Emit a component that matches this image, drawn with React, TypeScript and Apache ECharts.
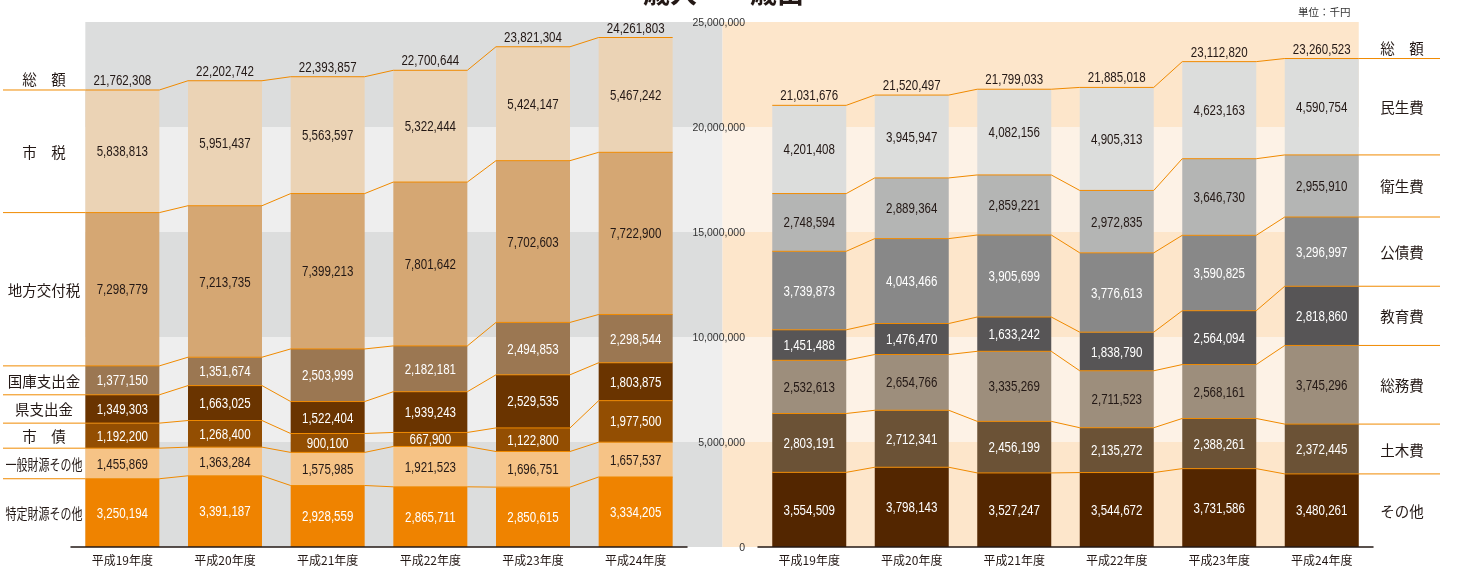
import React, { useEffect, useRef } from 'react';
import * as echarts from 'echarts';

// ---------- data ----------
const categories = ['平成19年度', '平成20年度', '平成21年度', '平成22年度', '平成23年度', '平成24年度'];
const axisTicks = [0, 5000000, 10000000, 15000000, 20000000, 25000000];

// 歳入 (revenue)
const revTotal = [21762308, 22202742, 22393857, 22700644, 23821304, 24261803];
const revCityTax = [5838813, 5951437, 5563597, 5322444, 5424147, 5467242];
const revLocalGrant = [7298779, 7213735, 7399213, 7801642, 7702603, 7722900];
const revNational = [1377150, 1351674, 2503999, 2182181, 2494853, 2298544];
const revPrefecture = [1349303, 1663025, 1522404, 1939243, 2529535, 1803875];
const revBonds = [1192200, 1268400, 900100, 667900, 1122800, 1977500];
const revGeneralOther = [1455869, 1363284, 1575985, 1921523, 1696751, 1657537];
const revSpecificOther = [3250194, 3391187, 2928559, 2865711, 2850615, 3334205];

// 歳出 (expenditure)
const expTotal = [21031676, 21520497, 21799033, 21885018, 23112820, 23260523];
const expWelfare = [4201408, 3945947, 4082156, 4905313, 4623163, 4590754];
const expHealth = [2748594, 2889364, 2859221, 2972835, 3646730, 2955910];
const expDebt = [3739873, 4043466, 3905699, 3776613, 3590825, 3296997];
const expEducation = [1451488, 1476470, 1633242, 1838790, 2564094, 2818860];
const expGeneral = [2532613, 2654766, 3335269, 2711523, 2568161, 3745296];
const expCivil = [2803191, 2712341, 2456199, 2135272, 2388261, 2372445];
const expOther = [3554509, 3798143, 3527247, 3544672, 3731586, 3480261];

// ---------- styles ----------
const ORANGE = '#f08a00';
const DARK = '#231815';
const NUM_FONT = "'Liberation Sans', Arial, sans-serif";
const NUM_SIZE = 15;
const NUM_SQUEEZE = 0.77;
const JP_FONT = "'Noto Sans CJK JP', 'Noto Sans CJK SC', sans-serif";
const BAR_W = 74;
const MID_X = 722.5;

type Seg = { name: string; label: string; data: number[]; color: string; text: string; squeeze?: number };

// bottom to top
const revenue: Seg[] = [
  { name: '特定財源その他', label: '特定財源その他', data: revSpecificOther, color: '#ef8300', text: '#ffffff', squeeze: 0.76 },
  { name: '一般財源その他', label: '一般財源その他', data: revGeneralOther, color: '#f6c386', text: DARK, squeeze: 0.76 },
  { name: '市債', label: '市　債', data: revBonds, color: '#934e02', text: '#ffffff' },
  { name: '県支出金', label: '県支出金', data: revPrefecture, color: '#6a3400', text: '#ffffff' },
  { name: '国庫支出金', label: '国庫支出金', data: revNational, color: '#9b7752', text: '#ffffff' },
  { name: '地方交付税', label: '地方交付税', data: revLocalGrant, color: '#d5a773', text: DARK },
  { name: '市税', label: '市　税', data: revCityTax, color: '#ebd3b5', text: DARK },
];

const expenditure: Seg[] = [
  { name: 'その他', label: 'その他', data: expOther, color: '#532600', text: '#ffffff' },
  { name: '土木費', label: '土木費', data: expCivil, color: '#6b5236', text: '#ffffff' },
  { name: '総務費', label: '総務費', data: expGeneral, color: '#9d8e7c', text: DARK },
  { name: '教育費', label: '教育費', data: expEducation, color: '#575556', text: '#ffffff' },
  { name: '公債費', label: '公債費', data: expDebt, color: '#888888', text: '#ffffff' },
  { name: '衛生費', label: '衛生費', data: expHealth, color: '#b4b5b4', text: DARK },
  { name: '民生費', label: '民生費', data: expWelfare, color: '#dcdddc', text: DARK },
];

const fmt = (v: number) => Number(v).toLocaleString('en-US');

function cumulative(segs: Seg[]): number[][] {
  const out: number[][] = [];
  let acc = categories.map(() => 0);
  segs.forEach((s) => {
    acc = acc.map((a, i) => a + s.data[i]);
    out.push(acc.slice());
  });
  return out;
}

export default function App() {
  const ref = useRef<HTMLDivElement>(null);

  useEffect(() => {
    if (!ref.current) return;
    const chart = echarts.init(ref.current, null, { renderer: 'svg' });

    const revCum = cumulative(revenue);
    const expCum = cumulative(expenditure);

    const barSeries = (segs: Seg[], axis: number, stack: string) =>
      segs.map((s) => ({
        type: 'bar',
        name: s.name,
        stack,
        xAxisIndex: axis,
        yAxisIndex: axis,
        barWidth: BAR_W,
        data: s.data,
        z: 2,
        silent: true,
        itemStyle: { color: s.color },
        label: { show: false },
      }));

    const bgSeries = (axis: number, side: 'left' | 'right', dark: string, light: string) => ({
      type: 'custom',
      xAxisIndex: axis,
      yAxisIndex: axis,
      clip: false,
      silent: true,
      z: 0,
      data: [[0, 0]],
      renderItem: (_params: any, api: any) => {
        const n = categories.length;
        let x0: number, x1: number;
        if (side === 'left') {
          x0 = api.coord([0, 0])[0] - BAR_W / 2;
          x1 = MID_X;
        } else {
          x0 = MID_X;
          x1 = api.coord([n - 1, 0])[0] + BAR_W / 2;
        }
        const children = axisTicks.slice(0, -1).map((v, k) => {
          const yb = api.coord([0, v])[1];
          const yt = api.coord([0, axisTicks[k + 1]])[1];
          return {
            type: 'rect',
            shape: { x: x0, y: yt, width: x1 - x0, height: yb - yt },
            style: { fill: k % 2 === 0 ? dark : light },
          };
        });
        return { type: 'group', children };
      },
    });

    const numText = (x: number, y: number, value: number, fill: string) => ({
      type: 'text',
      x,
      y,
      scaleX: NUM_SQUEEZE,
      style: { text: fmt(value), fontFamily: NUM_FONT, fontSize: NUM_SIZE, fill, align: 'center', verticalAlign: 'middle' },
    });

    const lineSeries = (segs: Seg[], cumArr: number[][], totals: number[], axis: number, side: 'left' | 'right') => ({
      type: 'custom',
      xAxisIndex: axis,
      yAxisIndex: axis,
      clip: false,
      silent: true,
      z: 5,
      data: categories.map((_, i) => [i, totals[i]]),
      encode: { x: 0, y: 1 },
      renderItem: (params: any, api: any) => {
        const i = params.dataIndex;
        const n = categories.length;
        const xc = api.coord([i, 0])[0];
        const L = xc - BAR_W / 2;
        const R = xc + BAR_W / 2;
        const children: any[] = [];
        // value labels inside segments
        segs.forEach((s, k) => {
          const y0 = api.coord([i, k === 0 ? 0 : cumArr[k - 1][i]])[1];
          const y1 = api.coord([i, cumArr[k][i]])[1];
          children.push(numText(xc, (y0 + y1) / 2, s.data[i], s.text));
        });
        // connector lines
        cumArr.forEach((b) => {
          const y = api.coord([i, b[i]])[1];
          const pts: number[][] = [];
          if (side === 'left' && i === 0) pts.push([3, y]);
          pts.push([L, y], [R, y]);
          if (i < n - 1) {
            const xn = api.coord([i + 1, 0])[0];
            const yn = api.coord([i + 1, b[i + 1]])[1];
            pts.push([xn - BAR_W / 2, yn]);
          }
          if (side === 'right' && i === n - 1) pts.push([1440, y]);
          children.push({
            type: 'polyline',
            shape: { points: pts },
            style: { stroke: ORANGE, lineWidth: 1, fill: null },
          });
        });
        const yTop = api.coord([i, totals[i]])[1];
        children.push(numText(xc, yTop - 10, totals[i], DARK));
        const labelIdx = side === 'left' ? 0 : n - 1;
        if (i === labelIdx) {
          const lx = side === 'left' ? 44 : 1402;
          children.push({
            type: 'text',
            x: lx,
            y: yTop - 11,
            style: { text: '総　額', fontFamily: JP_FONT, fontSize: 14.5, fill: DARK, align: 'center', verticalAlign: 'middle' },
          });
          segs.forEach((s, k) => {
            const y0 = api.coord([i, k === 0 ? 0 : cumArr[k - 1][i]])[1];
            const y1 = api.coord([i, cumArr[k][i]])[1];
            children.push({
              type: 'text',
              x: lx,
              y: (y0 + y1) / 2,
              scaleX: s.squeeze ?? 1,
              style: { text: s.label, fontFamily: JP_FONT, fontSize: 14.5, fill: DARK, align: 'center', verticalAlign: 'middle' },
            });
          });
        }
        return { type: 'group', children };
      },
    });

    const xAxisBase = {
      type: 'category',
      data: categories,
      z: 3,
      axisTick: { show: false },
      axisLine: { show: true, lineStyle: { color: DARK, width: 1.5 } },
      axisLabel: { color: DARK, fontFamily: JP_FONT, fontSize: 12, margin: 6 },
    };

    const option: any = {
      animation: false,
      grid: [
        { left: 71, width: 616, top: 22, height: 525 },
        { left: 758, width: 615, top: 22, height: 525 },
      ],
      xAxis: [
        { ...xAxisBase, gridIndex: 0 },
        { ...xAxisBase, gridIndex: 1 },
      ],
      yAxis: [
        { type: 'value', gridIndex: 0, min: 0, max: 25000000, interval: 5000000, show: false },
        {
          type: 'value',
          gridIndex: 1,
          min: 0,
          max: 25000000,
          interval: 5000000,
          z: 10,
          position: 'left',
          axisLine: { show: false },
          axisTick: { show: false },
          splitLine: { show: false },
          axisLabel: { color: '#333333', fontFamily: NUM_FONT, fontSize: 10.5, margin: 13, formatter: (v: number) => fmt(v) },
        },
      ],
      series: [
        bgSeries(0, 'left', '#dcdddd', '#eeeeee'),
        bgSeries(1, 'right', '#fde6cb', '#fdf2e6'),
        ...barSeries(revenue, 0, 'rev'),
        ...barSeries(expenditure, 1, 'exp'),
        lineSeries(revenue, revCum, revTotal, 0, 'left'),
        lineSeries(expenditure, expCum, expTotal, 1, 'right'),
      ],
      graphic: [
        { type: 'text', left: 643, top: -22, style: { text: '歳入', fontFamily: JP_FONT, fontSize: 27, fontWeight: 'bold', fill: DARK } },
        { type: 'text', left: 750, top: -22, style: { text: '歳出', fontFamily: JP_FONT, fontSize: 27, fontWeight: 'bold', fill: DARK } },
        { type: 'text', left: 1298, top: 6, style: { text: '単位：千円', fontFamily: JP_FONT, fontSize: 10.5, fill: '#333333' } },
      ],
    };

    chart.setOption(option);
    return () => chart.dispose();
  }, []);

  return <div ref={ref} style={{ position: 'fixed', left: 0, top: 0, width: 1457, height: 567 }} />;
}
